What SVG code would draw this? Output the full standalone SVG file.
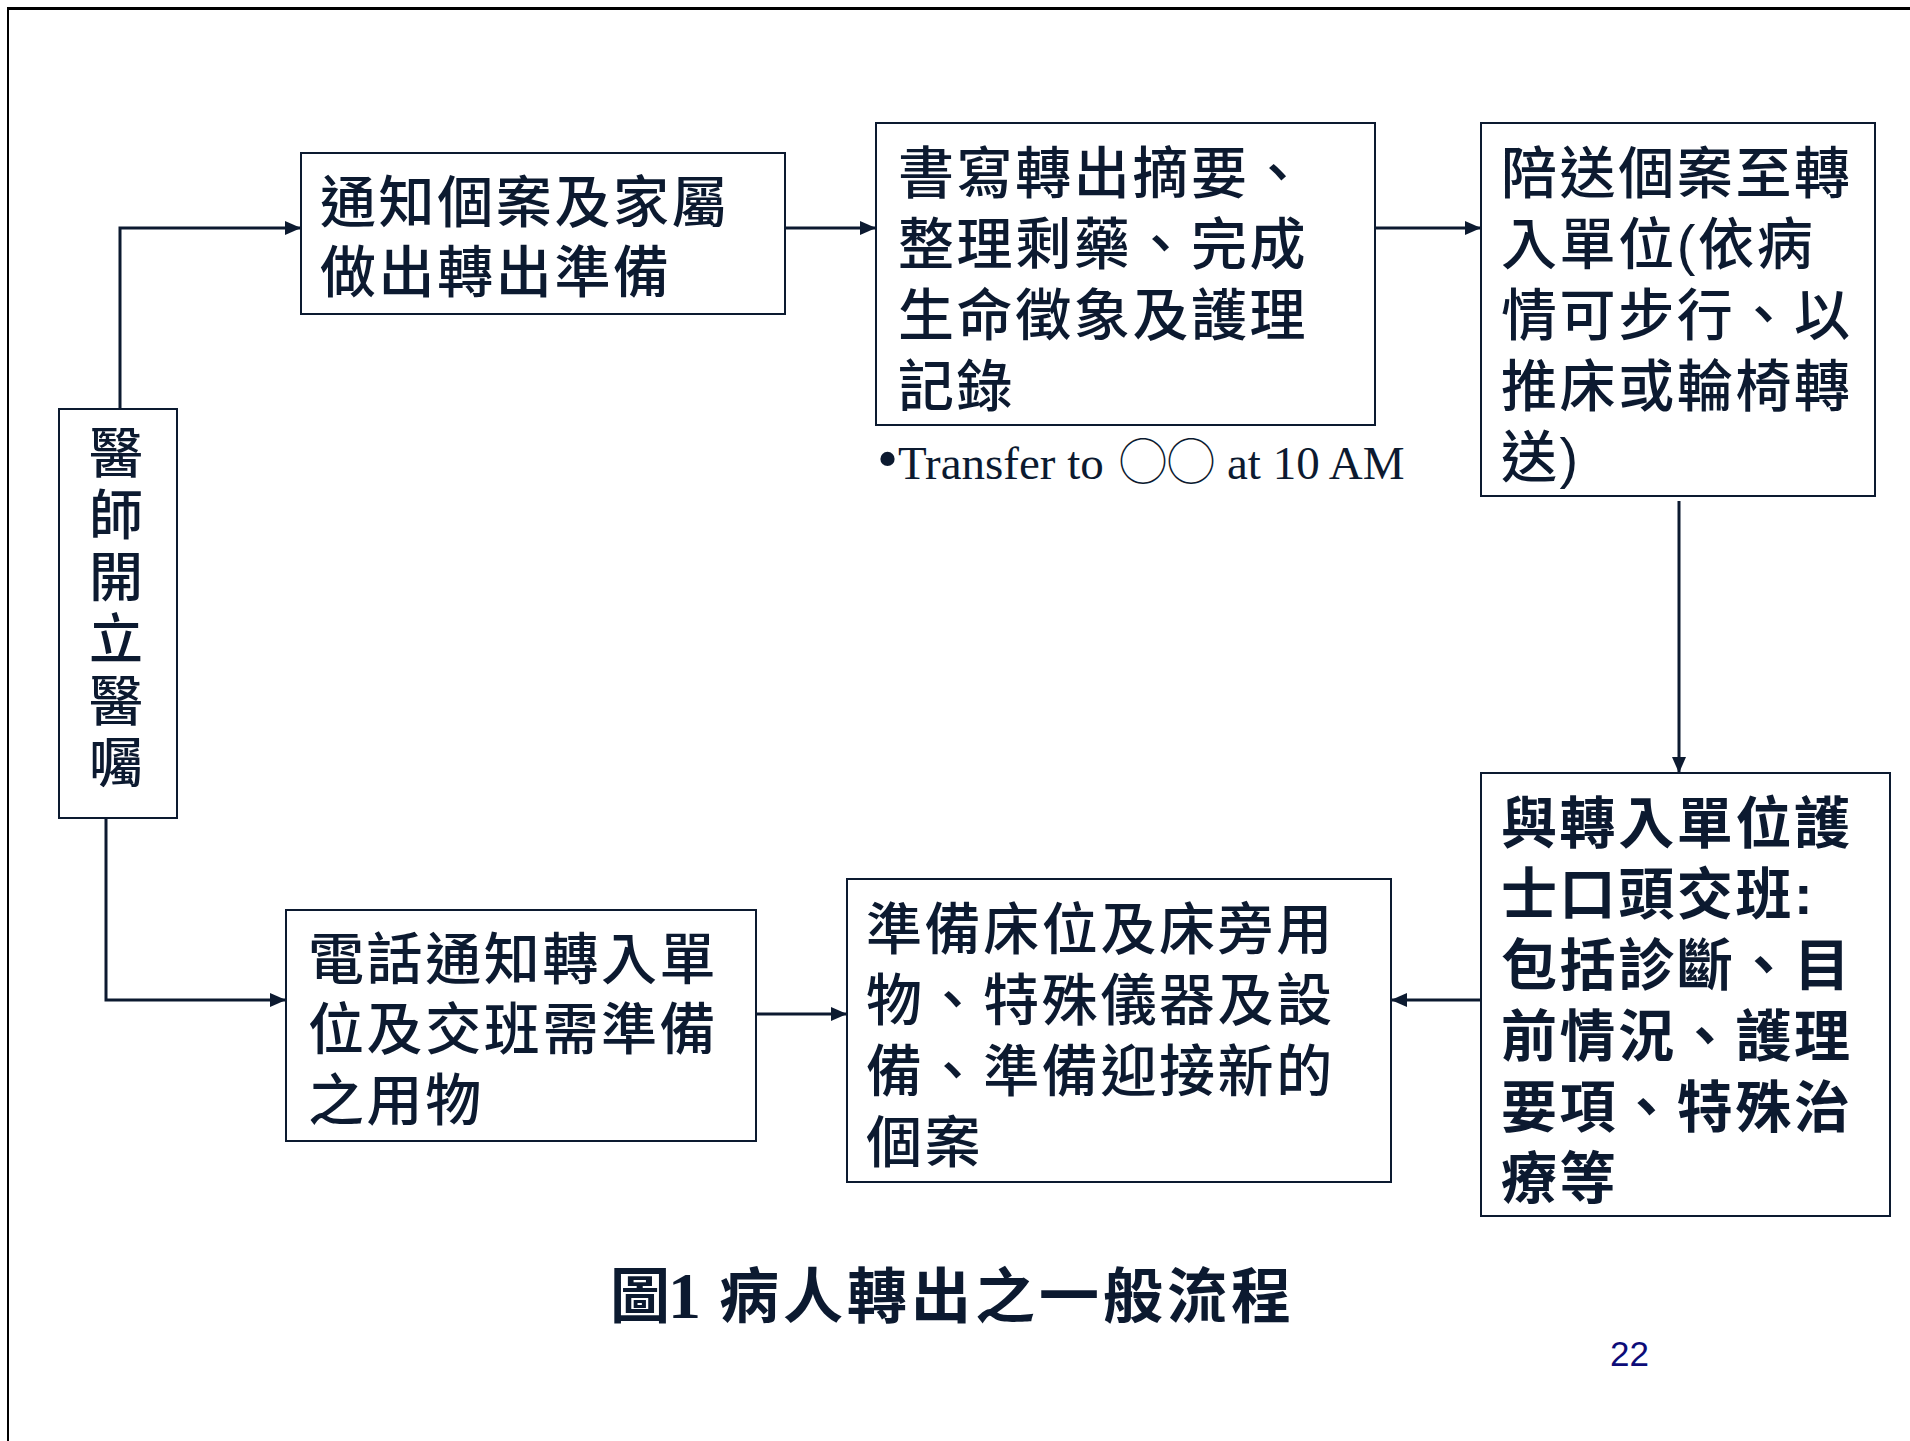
<svg xmlns="http://www.w3.org/2000/svg" width="1910" height="1441" viewBox="0 0 1910 1441">
<defs>
<style>
.box{fill:#ffffff;stroke:#0c1a30;stroke-width:2}
.t{font-family:"Liberation Sans","Noto Sans CJK TC","Noto Sans CJK SC",sans-serif;font-size:56px;font-weight:500;fill:#0c1a30;letter-spacing:2.6px}
.tb{font-family:"Liberation Sans","Noto Sans CJK TC","Noto Sans CJK SC",sans-serif;font-size:56px;font-weight:700;fill:#0c1a30;letter-spacing:2.6px}
.tv{font-family:"Liberation Sans","Noto Sans CJK TC","Noto Sans CJK SC",sans-serif;font-size:54px;font-weight:500;fill:#0c1a30;text-anchor:middle}
.con{fill:none;stroke:#0c1a30;stroke-width:3}
</style>
<marker id="arr" viewBox="0 0 16 14" refX="16" refY="7" markerWidth="16" markerHeight="14" markerUnits="userSpaceOnUse" orient="auto">
<path d="M0,0 L16,7 L0,14 Z" fill="#0c1a30"/>
</marker>
</defs>
<rect x="0" y="0" width="1910" height="1441" fill="#ffffff"/>
<g id="frame">
<line x1="7" y1="8.5" x2="1910" y2="8.5" stroke="#000000" stroke-width="3"/>
<line x1="8" y1="7" x2="8" y2="1441" stroke="#000000" stroke-width="2"/>
</g>
<g id="connectors">
<path class="con" d="M120,409 V228 H301" marker-end="url(#arr)"/>
<path class="con" d="M785,228 H876" marker-end="url(#arr)"/>
<path class="con" d="M1375,228 H1481" marker-end="url(#arr)"/>
<path class="con" d="M1679,501 V773" marker-end="url(#arr)"/>
<path class="con" d="M1481,1000 H1391" marker-end="url(#arr)"/>
<path class="con" d="M106,818 V1000 H286" marker-end="url(#arr)"/>
<path class="con" d="M756,1014 H847" marker-end="url(#arr)"/>
</g>
<g id="node-order">
<rect class="box" x="59" y="409" width="118" height="409"/>
<text class="tv" x="116" y="473">醫</text>
<text class="tv" x="116" y="535">師</text>
<text class="tv" x="116" y="597">開</text>
<text class="tv" x="116" y="659">立</text>
<text class="tv" x="116" y="721">醫</text>
<text class="tv" x="116" y="783">囑</text>
</g>
<g id="node-notify">
<rect class="box" x="301" y="153" width="484" height="161"/>
<text class="t" x="320" y="222">通知個案及家屬</text>
<text class="t" x="320" y="292">做出轉出準備</text>
</g>
<g id="node-write">
<rect class="box" x="876" y="123" width="499" height="302"/>
<text class="t" x="898" y="193">書寫轉出摘要、</text>
<text class="t" x="898" y="264">整理剩藥、完成</text>
<text class="t" x="898" y="335">生命徵象及護理</text>
<text class="t" x="898" y="406">記錄</text>
</g>
<g id="note">
<text font-family="Liberation Serif, serif" font-size="47" fill="#0c1a30" y="479"><tspan x="877" font-size="60">•</tspan><tspan x="898">Transfer to</tspan><tspan x="1119" font-family="Noto Sans CJK TC, sans-serif" font-size="48">◯◯</tspan><tspan x="1227">at 10 AM</tspan></text>
</g>
<g id="node-escort">
<rect class="box" x="1481" y="123" width="394" height="373"/>
<text class="t" x="1501" y="193">陪送個案至轉</text>
<text class="t" x="1501" y="264">入單位(依病</text>
<text class="t" x="1501" y="335">情可步行、以</text>
<text class="t" x="1501" y="406">推床或輪椅轉</text>
<text class="t" x="1501" y="477">送)</text>
</g>
<g id="node-handover">
<rect class="box" x="1481" y="773" width="409" height="443"/>
<text class="tb" x="1501" y="843">與轉入單位護</text>
<text class="tb" x="1501" y="914">士口頭交班:</text>
<text class="tb" x="1501" y="985">包括診斷、目</text>
<text class="tb" x="1501" y="1056">前情況、護理</text>
<text class="tb" x="1501" y="1127">要項、特殊治</text>
<text class="tb" x="1501" y="1198">療等</text>
</g>
<g id="node-prepare">
<rect class="box" x="847" y="879" width="544" height="303"/>
<text class="t" x="866" y="949">準備床位及床旁用</text>
<text class="t" x="866" y="1020">物、特殊儀器及設</text>
<text class="t" x="866" y="1091">備、準備迎接新的</text>
<text class="t" x="866" y="1162">個案</text>
</g>
<g id="node-phone">
<rect class="box" x="286" y="910" width="470" height="231"/>
<text class="t" x="308" y="979">電話通知轉入單</text>
<text class="t" x="308" y="1049">位及交班需準備</text>
<text class="t" x="308" y="1120">之用物</text>
</g>
<g id="caption">
<text font-family="Noto Sans CJK TC, sans-serif" font-size="60" font-weight="700" fill="#0c1a30" y="1318"><tspan x="610">圖</tspan><tspan x="668" font-family="Liberation Serif, serif" font-size="66">1</tspan><tspan x="719" letter-spacing="4">病人轉出之一般流程</tspan></text>
<text x="1610" y="1366" font-family="Liberation Sans, sans-serif" font-size="35" fill="#0c0c78">22</text>
</g>
</svg>
